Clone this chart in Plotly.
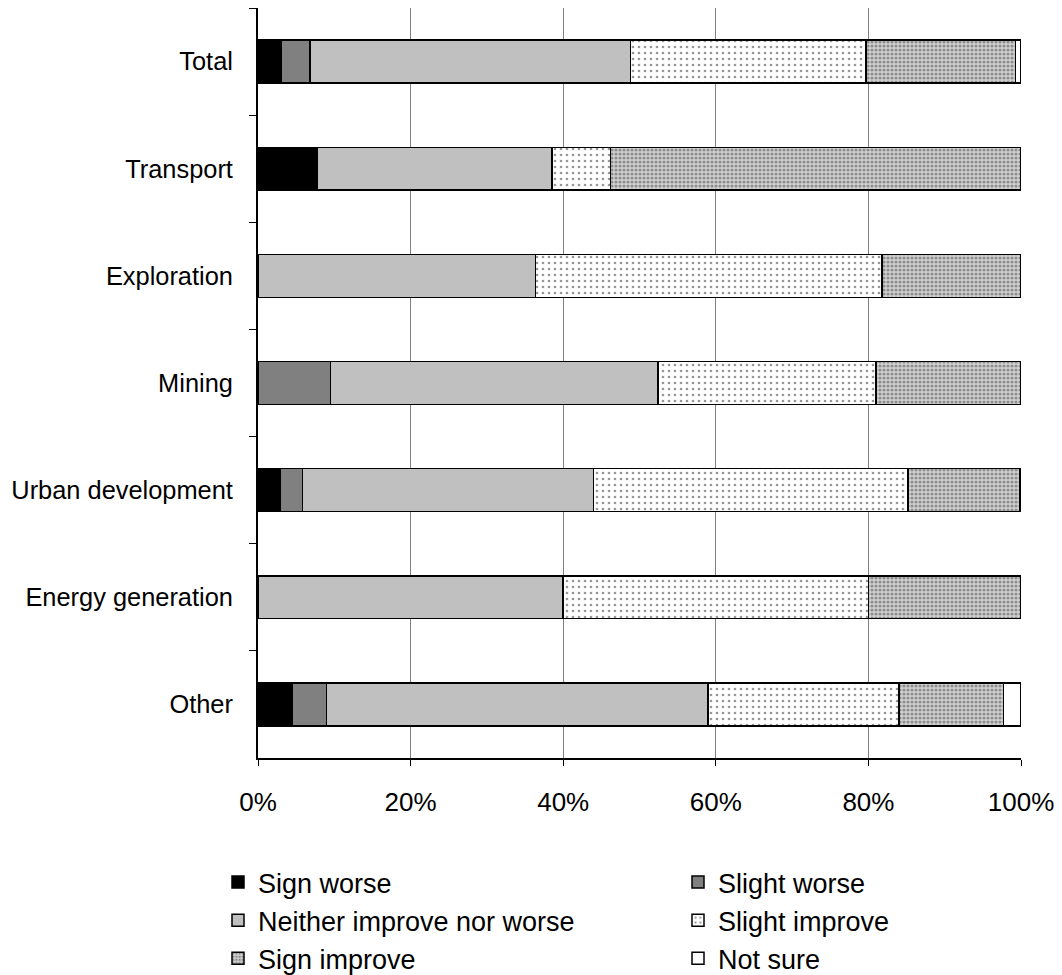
import plotly.graph_objects as go

categories = ["Total", "Transport", "Exploration", "Mining", "Urban development", "Energy generation", "Other"]

sign_worse = [3.1, 7.7, 0, 0, 2.9, 0, 4.5]
slight_worse = [3.7, 0, 0, 9.5, 2.9, 0, 4.5]
neither = [42.0, 30.8, 36.4, 42.9, 38.2, 40.0, 50.0]
slight_improve = [30.9, 7.7, 45.4, 28.6, 41.2, 40.0, 25.0]
sign_improve = [19.6, 53.8, 18.2, 19.0, 14.7, 20.0, 13.7]
not_sure = [0.7, 0, 0, 0, 0, 0, 2.3]

x_ticks = [0, 20, 40, 60, 80, 100]
x_labels = ["0%", "20%", "40%", "60%", "80%", "100%"]

font_name = "Liberation Sans, Arial, sans-serif"
outline = dict(color="black", width=1.5)

# left legend column / right legend column
series = [
    ("Sign worse", sign_worse, "legend", dict(color="black", line=outline)),
    ("Slight worse", slight_worse, "legend2", dict(color="#808080", line=outline)),
    ("Neither improve nor worse", neither, "legend", dict(color="#C0C0C0", line=outline)),
    ("Slight improve", slight_improve, "legend2", dict(color="white", line=outline,
        pattern=dict(shape=".", fgcolor="#303030", bgcolor="white", size=6, solidity=0.16, fillmode="overlay"))),
    ("Sign improve", sign_improve, "legend", dict(color="white", line=outline,
        pattern=dict(shape=".", fgcolor="#4a4a4a", bgcolor="#d2d2d2", size=4, solidity=0.5, fillmode="overlay"))),
    ("Not sure", not_sure, "legend2", dict(color="white", line=outline)),
]

fig = go.Figure()
for name, vals, leg, marker in series:
    fig.add_trace(go.Bar(y=categories, x=vals, name=name, orientation="h",
                         marker=marker, width=0.4, legend=leg))

# page body adds 8px offset, margins compensate for it
plot_left = 250
plot_w = 763

leg_style = dict(orientation="v", xanchor="left", yanchor="top", y=-0.134,
                 font=dict(size=27), traceorder="normal", itemclick=False,
                 bgcolor="rgba(0,0,0,0)")

fig.update_layout(
    barmode="stack",
    width=1062, height=975,
    margin=dict(l=plot_left, r=1062 - plot_left - plot_w, t=0, b=223),
    paper_bgcolor="white", plot_bgcolor="white",
    font=dict(family=font_name, size=26, color="black"),
    legend=dict(x=(210 - plot_left) / plot_w, **leg_style),
    legend2=dict(x=(670 - plot_left) / plot_w, **leg_style),
)

fig.update_xaxes(range=[0, 100], tickvals=x_ticks, ticktext=x_labels,
                 showgrid=True, gridcolor="#808080", gridwidth=1,
                 showline=True, linecolor="black", linewidth=1.5,
                 ticks="outside", ticklen=6, tickcolor="black",
                 ticklabelstandoff=14, zeroline=False, automargin=False)
fig.update_yaxes(categoryorder="array", categoryarray=categories, autorange="reversed",
                 showline=True, linecolor="black", linewidth=2,
                 ticks="outside", ticklen=7, tickcolor="black", tickson="boundaries",
                 ticklabelstandoff=18, showgrid=False, automargin=False,
                 tickfont=dict(size=25.4))

fig.write_html("out.html")
